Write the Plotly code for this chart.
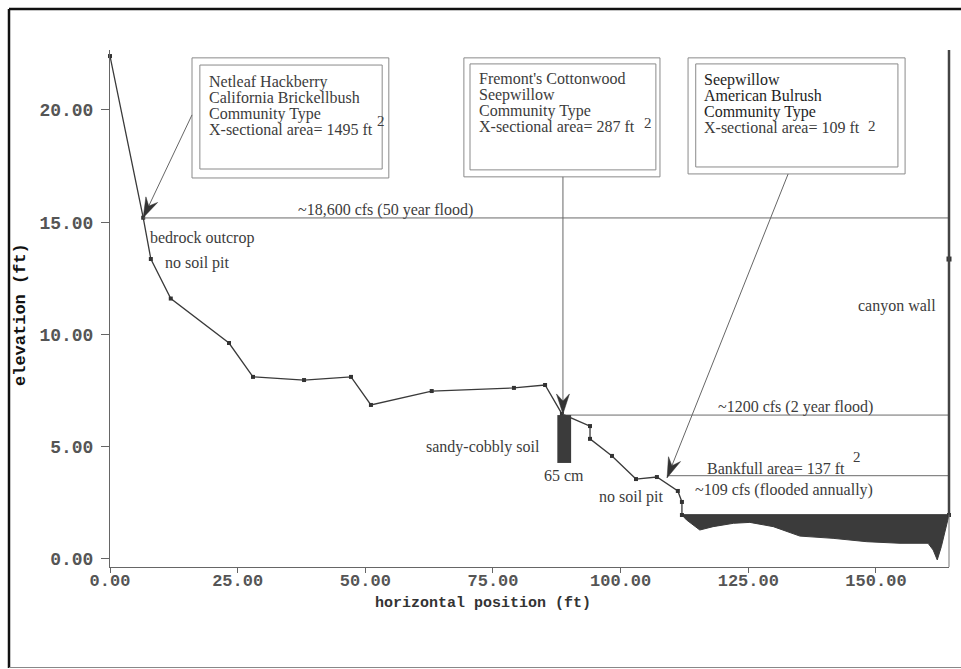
import math
import plotly.graph_objects as go

# Surveyed ground profile across the section (station ft, elevation ft)
station = [0.0, 6.5, 8.0, 11.9, 23.3, 28.0, 38.0, 47.2, 51.1, 63.0, 79.1, 85.2,
           88.5, 94.0, 94.0, 98.3, 103.0, 107.1, 111.2, 112.0, 112.0]
elevation = [22.4, 15.2, 13.36, 11.6, 9.62, 8.11, 7.97, 8.11, 6.86, 7.48, 7.62, 7.75,
             6.46, 5.92, 5.35, 4.59, 3.56, 3.65, 3.03, 2.54, 1.96]

# Wetted channel bed under the low-flow water surface
bed_station = [112.0, 112.9, 115.5, 118.1, 122.1, 125.3, 129.9, 135.1, 141.6, 148.2,
               154.7, 160.2, 161.2, 162.0, 162.8, 163.8, 164.3]
bed_elevation = [1.96, 1.74, 1.29, 1.44, 1.59, 1.63, 1.44, 1.02, 0.92, 0.77,
                 0.70, 0.70, 0.40, -0.04, 0.55, 1.59, 1.96]
water_surface = 1.96

# Canyon wall on the right bank
wall_station = 164.3
wall_marker_elev = 13.36

# Flood stages (elevation, station where the line starts)
flood_50yr = (15.19, 6.5)
flood_2yr = (6.41, 88.7)
bankfull = (3.71, 109.1)

# Soil pit
pit_station = 88.95
pit_width = 2.7
pit_top = 6.41
pit_depth_cm = 65
pit_bottom = pit_top - pit_depth_cm / 30.48

# Axis ticks
x_ticks = [0, 25, 50, 75, 100, 125, 150]
x_ticklabels = ["0.00", "25.00", "50.00", "75.00", "100.00", "125.00", "150.00"]
y_ticks = [0, 5, 10, 15, 20]
y_ticklabels = ["0.00", "5.00", "10.00", "15.00", "20.00"]
x_range = [0, 164.3]
y_range = [-0.357, 22.67]

# Community-type callouts: lines of text, box corners, arrow start and tip
boxes = [
    dict(lines=["Netleaf Hackberry", "California Brickellbush", "Community Type",
                "X-sectional area= 1495 ft"],
         outer=(16.06, 16.97, 54.6, 22.32), inner=(17.6, 17.37, 53.3, 22.0),
         text_x=19.0, text_top=21.25, sup=(53.06, 19.51),
         arrow=((16.06, 19.78), (6.5, 15.2)), dark=False),
    dict(lines=["Fremont's Cottonwood", "Seepwillow", "Community Type",
                "X-sectional area= 287 ft"],
         outer=(69.3, 17.02, 107.7, 22.32), inner=(70.5, 17.33, 106.9, 22.05),
         text_x=71.9, text_top=21.38, sup=(105.3, 19.42),
         arrow=((88.7, 17.02), (88.7, 6.46)), dark=False),
    dict(lines=["Seepwillow", "American Bulrush", "Community Type",
                "X-sectional area= 109 ft"],
         outer=(113.2, 17.15, 155.7, 22.32), inner=(114.7, 17.46, 154.3, 22.05),
         text_x=115.9, text_top=21.34, sup=(149.2, 19.29),
         arrow=((132.8, 17.15), (109.1, 3.62)), dark=True),
]
line_step = 0.713

# Free text labels: (text, x, y, xanchor)
labels = [
    ("~18,600 cfs (50 year flood)", 54.0, 15.55, "center"),
    ("bedrock outcrop", 7.4, 14.3, "left"),
    ("no soil pit", 10.4, 13.2, "left"),
    ("sandy-cobbly soil", 73.0, 4.99, "center"),
    ("no soil pit", 102.2, 2.76, "center"),
    ("~1200 cfs (2 year flood)", 134.3, 6.77, "center"),
    ("Bankfull area= 137 ft", 130.4, 4.05, "center"),
    ("~109 cfs (flooded annually)", 132.0, 3.07, "center"),
    ("canyon wall", 154.1, 11.27, "center"),
]
bankfull_sup = (146.3, 4.54)

W, H = 961, 669
ML, MR, MT, MB = 110, 12, 50, 102
PW, PH = W - ML - MR, H - MT - MB
SX = PW / (x_range[1] - x_range[0])
SY = PH / (y_range[1] - y_range[0])

SERIF = "Liberation Serif"
MONO = "Liberation Mono"
TXT = "#3c3c3c"
FS = 16


def xp(v):
    """data station -> paper fraction"""
    return (v - x_range[0]) / (x_range[1] - x_range[0])


def yp(v):
    """data elevation -> paper fraction"""
    return (v - y_range[0]) / (y_range[1] - y_range[0])


fig = go.Figure()

# water-filled channel
fig.add_trace(go.Scatter(
    x=bed_station + [bed_station[-1], bed_station[0]],
    y=bed_elevation + [water_surface, water_surface],
    mode="lines", fill="toself", fillcolor="#3b3b3b",
    line=dict(color="#3b3b3b", width=1), hoverinfo="skip", showlegend=False))

# ground profile
fig.add_trace(go.Scatter(
    x=station + [wall_station], y=elevation + [water_surface],
    mode="lines+markers", cliponaxis=False,
    line=dict(color="#3a3a3a", width=1.3),
    marker=dict(symbol="square", size=4, color="#333"),
    showlegend=False))

# point on canyon wall
fig.add_trace(go.Scatter(x=[wall_station], y=[wall_marker_elev], mode="markers",
                         cliponaxis=False,
                         marker=dict(symbol="square", size=5, color="#333"),
                         showlegend=False))

shapes = []

# flood stage lines
for elev, start in (flood_50yr, flood_2yr, bankfull):
    shapes.append(dict(type="line", xref="x", yref="y", x0=start, x1=wall_station,
                       y0=elev, y1=elev, line=dict(color="#6a6a6a", width=1)))

# canyon wall and right border (paper refs so the wide stroke is not clipped)
shapes.append(dict(type="line", xref="paper", yref="paper",
                   x0=xp(wall_station), x1=xp(wall_station),
                   y0=yp(water_surface), y1=1, line=dict(color="#444", width=2.5)))
shapes.append(dict(type="line", xref="paper", yref="paper",
                   x0=xp(wall_station), x1=xp(wall_station),
                   y0=0, y1=yp(water_surface), line=dict(color="#777", width=1)))

# soil pit column
shapes.append(dict(type="rect", xref="x", yref="y",
                   x0=pit_station - pit_width / 2, x1=pit_station + pit_width / 2,
                   y0=pit_bottom, y1=pit_top, fillcolor="#3b3b3b", line=dict(width=0)))


def arrowhead(start, tip, length=20, half=6.5, notch=7):
    dx = (tip[0] - start[0]) * SX
    dy = (tip[1] - start[1]) * SY
    n = math.hypot(dx, dy)
    ux, uy = dx / n, dy / n
    px, py = -uy, ux
    bx, by = -ux * length, -uy * length
    lx, ly = bx + px * half, by + py * half
    rx, ry = bx - px * half, by - py * half
    mx, my = -ux * (length - notch), -uy * (length - notch)
    path = (f"M0,0 L{lx:.2f},{ly:.2f} L{mx:.2f},{my:.2f} "
            f"L{rx:.2f},{ry:.2f} Z")
    return dict(type="path", xref="x", yref="y", xsizemode="pixel", ysizemode="pixel",
                xanchor=tip[0], yanchor=tip[1], path=path,
                fillcolor="#333", line=dict(color="#333", width=0.5))


annotations = []
for b in boxes:
    for rect in (b["outer"], b["inner"]):
        shapes.append(dict(type="rect", xref="x", yref="y", x0=rect[0], y0=rect[1],
                           x1=rect[2], y1=rect[3], fillcolor="rgba(0,0,0,0)",
                           line=dict(color="#8a8a8a", width=1)))
    (sx0, sy0), tip = b["arrow"]
    shapes.append(dict(type="line", xref="x", yref="y", x0=sx0, y0=sy0,
                       x1=tip[0], y1=tip[1], line=dict(color="#666", width=1)))
    shapes.append(arrowhead((sx0, sy0), tip))
    for i, ln in enumerate(b["lines"]):
        color = "#1e1e1e" if (b["dark"] and i < 3) else TXT
        annotations.append(dict(text=ln, x=b["text_x"], y=b["text_top"] - i * line_step,
                                xref="x", yref="y", xanchor="left", yanchor="middle",
                                showarrow=False,
                                font=dict(family=SERIF, size=FS, color=color)))
    annotations.append(dict(text="2", x=b["sup"][0], y=b["sup"][1], xref="x", yref="y",
                            xanchor="center", yanchor="middle", showarrow=False,
                            font=dict(family=SERIF, size=15, color=TXT)))

for text, x, y, anchor in labels:
    annotations.append(dict(text=text, x=x, y=y, xref="x", yref="y", xanchor=anchor,
                            yanchor="middle", showarrow=False,
                            font=dict(family=SERIF, size=FS, color=TXT)))
annotations.append(dict(text="2", x=bankfull_sup[0], y=bankfull_sup[1], xref="x", yref="y",
                        showarrow=False, font=dict(family=SERIF, size=15, color=TXT)))
annotations.append(dict(text=f"{pit_depth_cm} cm", x=pit_station, y=pit_bottom - 0.08,
                        xref="x", yref="y", xanchor="center", yanchor="top",
                        showarrow=False, font=dict(family=SERIF, size=FS, color=TXT)))

# axis titles
annotations.append(dict(text="<b>horizontal position (ft)</b>", xref="paper", yref="paper",
                        x=(483 - ML) / PW, y=-36 / PH, xanchor="center", yanchor="middle",
                        showarrow=False, font=dict(family=MONO, size=15, color="#333")))
annotations.append(dict(text="<b>elevation (ft)</b>", xref="paper", yref="paper",
                        x=(20 - ML) / PW, y=(H - MB - 315) / PH, textangle=-90,
                        xanchor="center", yanchor="middle", showarrow=False,
                        font=dict(family=MONO, size=17, color="#111")))


# outer page frame
def px_x(p):
    return (p - ML) / PW


def px_y(p):
    return (H - MB - p) / PH


shapes.append(dict(type="line", xref="paper", yref="paper", x0=px_x(9), x1=px_x(9),
                   y0=px_y(9), y1=px_y(668), line=dict(color="#111", width=2.5)))
shapes.append(dict(type="line", xref="paper", yref="paper", x0=px_x(9), x1=px_x(962),
                   y0=px_y(9), y1=px_y(9), line=dict(color="#111", width=2.5)))
shapes.append(dict(type="line", xref="paper", yref="paper", x0=px_x(9), x1=px_x(962),
                   y0=px_y(667.5), y1=px_y(667.5), line=dict(color="#888", width=1)))

fig.update_layout(
    width=W, height=H,
    margin=dict(l=ML, r=MR, t=MT, b=MB, pad=0),
    paper_bgcolor="white", plot_bgcolor="white",
    shapes=shapes, annotations=annotations,
    xaxis=dict(range=x_range, tickvals=x_ticks, ticktext=x_ticklabels,
               showgrid=False, zeroline=False, showline=True, linecolor="#666",
               linewidth=1, ticks="outside", ticklen=5, tickcolor="#666",
               ticklabelstandoff=-7,
               tickfont=dict(family=MONO, size=17, color="#555", weight="bold")),
    yaxis=dict(range=y_range, tickvals=y_ticks, ticktext=y_ticklabels,
               showgrid=False, zeroline=False, showline=True, linecolor="#666",
               linewidth=1, ticks="outside", ticklen=8, tickcolor="#666",
               ticklabelstandoff=4,
               tickfont=dict(family=MONO, size=18, color="#555", weight="bold")),
)

fig.write_html("out.html")
